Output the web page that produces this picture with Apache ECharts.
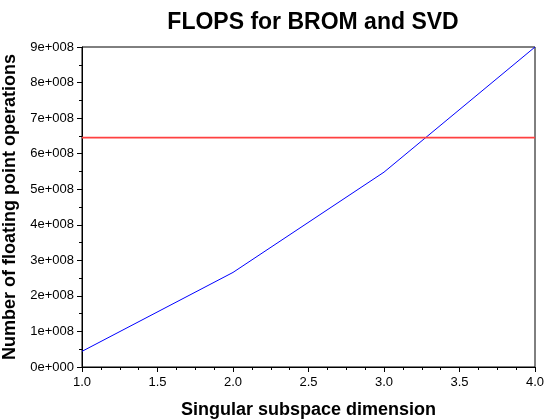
<!DOCTYPE html>
<html lang="en">
<head>
    <meta charset="UTF-8">
    <title>FLOPS for BROM and SVD</title>
    <script type="text/javascript" src="https://cdn.jsdelivr.net/npm/echarts@6/dist/echarts.min.js"></script>
    <style type="text/css">
        html,body{margin:0;padding:0;background:#fff;}
        #main{width:544px;height:420px;}
    </style>
</head>
<body>
<div id="main"></div>
<script type="text/javascript">
    // 数据
    var dims = [1, 2, 3, 4];
    var bromFlops = [4.4e7, 2.66e8, 5.48e8, 9.0e8];
    var svdFlops = 6.45e8;
    var xRange = [1, 4];

    var fontFam = 'Liberation Sans, Arial, sans-serif';

    function expLabel(v) {
        if (v === 0) return '0e+000';
        var e = Math.floor(Math.log10(Math.abs(v)) + 1e-9);
        var m = Math.round(v / Math.pow(10, e));
        return m + 'e+' + ('000' + e).slice(-3);
    }

    var myChart = echarts.init(document.getElementById('main'));
    var option = {
        backgroundColor: '#fff',
        animation: false,
        title: {
            text: 'FLOPS for BROM and SVD',
            left: 308,
            top: 6,
            textAlign: 'center',
            textStyle: {color: '#000', fontFamily: fontFam, fontWeight: 'bold', fontSize: 23}
        },
        grid: {left: 82, right: 9, top: 47, bottom: 53, show: true, borderColor: '#000', borderWidth: 1,
            containLabel: false, outerBoundsMode: 'none'},
        xAxis: {
            type: 'value',
            min: xRange[0],
            max: xRange[1],
            interval: 0.5,
            name: 'Singular subspace dimension',
            nameLocation: 'middle',
            nameGap: 34,
            nameTextStyle: {color: '#000', fontFamily: fontFam, fontWeight: 'bold', fontSize: 18},
            axisLine: {lineStyle: {color: '#000'}},
            axisTick: {length: 5, lineStyle: {color: '#000'}},
            minorTick: {show: true, splitNumber: 4, length: 3, lineStyle: {color: '#000'}},
            splitLine: {show: false},
            axisLabel: {color: '#000', fontFamily: fontFam, fontSize: 13, margin: 9,
                formatter: function (v) { return v.toFixed(1); }}
        },
        yAxis: {
            type: 'value',
            min: 0,
            max: 9e8,
            interval: 1e8,
            name: 'Number of floating point operations',
            nameLocation: 'middle',
            nameGap: 60,
            nameTextStyle: {color: '#000', fontFamily: fontFam, fontWeight: 'bold', fontSize: 18},
            axisLine: {show: true, lineStyle: {color: '#000'}},
            axisTick: {show: true, length: 5, lineStyle: {color: '#000'}},
            minorTick: {show: true, splitNumber: 2, length: 3, lineStyle: {color: '#000'}},
            splitLine: {show: false},
            axisLabel: {color: '#000', fontFamily: fontFam, fontSize: 13, margin: 8, formatter: expLabel}
        },
        series: [{
            name: 'BROM',
            type: 'line',
            data: dims.map(function (d, i) { return [d, bromFlops[i]]; }),
            showSymbol: false,
            lineStyle: {color: '#0000ff', width: 1},
            itemStyle: {color: '#0000ff'}
        }, {
            name: 'SVD',
            type: 'line',
            data: [[xRange[0], svdFlops], [xRange[1], svdFlops]],
            showSymbol: false,
            lineStyle: {color: '#ff4040', width: 1.6},
            itemStyle: {color: '#ff4040'}
        }]
    };
    myChart.setOption(option);
</script>
</body>
</html>
